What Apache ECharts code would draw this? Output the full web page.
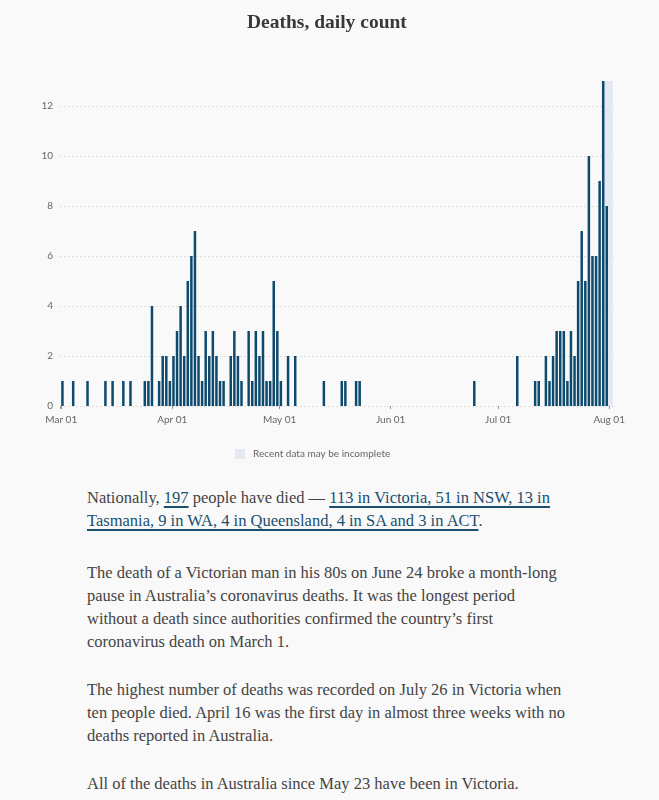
<!DOCTYPE html>
<html>
<head>
<meta charset="utf-8">
<script src="https://cdn.jsdelivr.net/npm/echarts@6/dist/echarts.min.js"></script>
<style>
  html, body { margin: 0; padding: 0; background: #f9f9f9; }
  body { width: 659px; height: 800px; position: relative; overflow: hidden; }
  #chart { position: absolute; left: 0; top: 0; width: 659px; height: 470px; }
  .p { position: absolute; left: 87px; margin: 0; white-space: nowrap;
       font-family: "Liberation Serif", serif; font-size: 16.5px; line-height: 23px; color: #444; }
  .p a { color: #1a4f6e; text-decoration: underline; text-decoration-thickness: 2px;
         text-underline-offset: 3px; text-decoration-color: #1a4f6e; }
</style>
</head>
<body>
<div id="chart"></div>
<p class="p" style="top:486px">Nationally, <a>197</a> people have died — <a>113 in Victoria, 51 in NSW, 13 in<br>Tasmania, 9 in WA, 4 in Queensland, 4 in SA and 3 in ACT</a>.</p>
<p class="p" style="top:561px">The death of a Victorian man in his 80s on June 24 broke a month-long<br>pause in Australia’s coronavirus deaths. It was the longest period<br>without a death since authorities confirmed the country’s first<br>coronavirus death on March 1.</p>
<p class="p" style="top:678px">The highest number of deaths was recorded on July 26 in Victoria when<br>ten people died. April 16 was the first day in almost three weeks with no<br>deaths reported in Australia.</p>
<p class="p" style="top:772px">All of the deaths in Australia since May 23 have been in Victoria.</p>
<script>
const dates = [
  '2020-03-01','2020-03-04','2020-03-08','2020-03-13','2020-03-15','2020-03-18','2020-03-20',
  '2020-03-24','2020-03-25','2020-03-26','2020-03-28','2020-03-29','2020-03-30','2020-03-31',
  '2020-04-01','2020-04-02','2020-04-03','2020-04-04','2020-04-05','2020-04-06','2020-04-07',
  '2020-04-08','2020-04-09','2020-04-10','2020-04-11','2020-04-12','2020-04-13','2020-04-14',
  '2020-04-15','2020-04-17','2020-04-18','2020-04-19','2020-04-20','2020-04-22','2020-04-23',
  '2020-04-24','2020-04-25','2020-04-26','2020-04-27','2020-04-28','2020-04-29','2020-04-30',
  '2020-05-01','2020-05-03','2020-05-05','2020-05-13','2020-05-18','2020-05-19','2020-05-22',
  '2020-05-23','2020-06-24','2020-07-06','2020-07-11','2020-07-12','2020-07-14','2020-07-15',
  '2020-07-16','2020-07-17','2020-07-18','2020-07-19','2020-07-20','2020-07-21','2020-07-22',
  '2020-07-23','2020-07-24','2020-07-25','2020-07-26','2020-07-27','2020-07-28','2020-07-29',
  '2020-07-30','2020-07-31'
];
const deaths = [
  1,1,1,1,1,1,1,
  1,1,4,1,2,2,1,
  2,3,4,2,5,6,7,
  2,1,3,2,3,2,1,
  1,2,3,2,1,3,1,
  3,2,3,1,1,5,3,
  1,2,2,1,1,1,1,
  1,1,2,1,1,2,1,
  2,3,3,3,1,3,2,
  5,7,5,10,6,6,9,
  13,8
];
const tickDates = ['2020-03-01','2020-04-01','2020-05-01','2020-06-01','2020-07-01','2020-08-01'];
const tickLabels = ['Mar 01','Apr 01','May 01','Jun 01','Jul 01','Aug 01'];
const axisStart = '2020-03-01';
const axisEnd = '2020-08-02';
const incompleteStart = '2020-07-30';
const yMax = 13;
const yInterval = 2;
const legendLabel = 'Recent data may be incomplete';

const ts = s => Date.parse(s + 'T00:00:00Z');
const HOUR = 3600 * 1000;
const barData = dates.map((d, i) => [ts(d) + 8 * HOUR, deaths[i]]);
const labelMap = {};
tickDates.forEach((d, i) => { labelMap[ts(d)] = tickLabels[i]; });

const chart = echarts.init(document.getElementById('chart'), null, { renderer: 'canvas' });
chart.setOption({
  useUTC: true,
  animation: false,
  backgroundColor: '#f9f9f9',
  title: {
    text: 'Deaths, daily count',
    left: 242, top: 8,
    textStyle: { fontFamily: 'Liberation Serif', fontSize: 19.5, fontWeight: 'bold', color: '#383838' }
  },
  legend: {
    data: [legendLabel],
    left: 230, top: 444,
    icon: 'rect', itemWidth: 10, itemHeight: 10,
    selectedMode: false,
    textStyle: { fontFamily: 'Lato', fontSize: 10, color: '#666', padding: [0, 0, 0, 3] }
  },
  grid: { left: 60, right: 45, top: 81, bottom: 64 },
  xAxis: {
    type: 'time',
    min: ts(axisStart), max: ts(axisEnd),
    offset: 5,
    axisLine: { show: false },
    axisTick: { show: true, length: 3, lineStyle: { color: '#999', width: 1 } },
    axisLabel: {
      formatter: v => labelMap[v] || '',
      showMinLabel: true, showMaxLabel: false,
      fontFamily: 'Lato', fontSize: 10, color: '#666', margin: 4
    },
    splitLine: { show: false }
  },
  yAxis: {
    type: 'value',
    min: 0, max: yMax, interval: yInterval,
    axisLine: { show: false },
    axisTick: { show: false },
    axisLabel: {
      showMaxLabel: false,
      fontFamily: 'Lato', fontSize: 10, color: '#666', margin: 7
    },
    splitLine: { show: true, showMaxLine: false, lineStyle: { color: '#dedede', type: [2, 2] } }
  },
  series: [
    {
      name: legendLabel,
      type: 'bar',
      data: [],
      itemStyle: { color: '#e3e8f1' },
      z: 1,
      markArea: {
        silent: true,
        z: 1,
        itemStyle: { color: '#e3e8f1' },
        data: [[{ xAxis: ts(incompleteStart) }, { xAxis: ts(axisEnd) }]]
      }
    },
    {
      name: 'Deaths',
      type: 'bar',
      data: barData,
      barWidth: 2.5,
      barGap: '-100%',
      itemStyle: { color: '#0d4a6e' },
      z: 10
    }
  ]
});
</script>
</body>
</html>
